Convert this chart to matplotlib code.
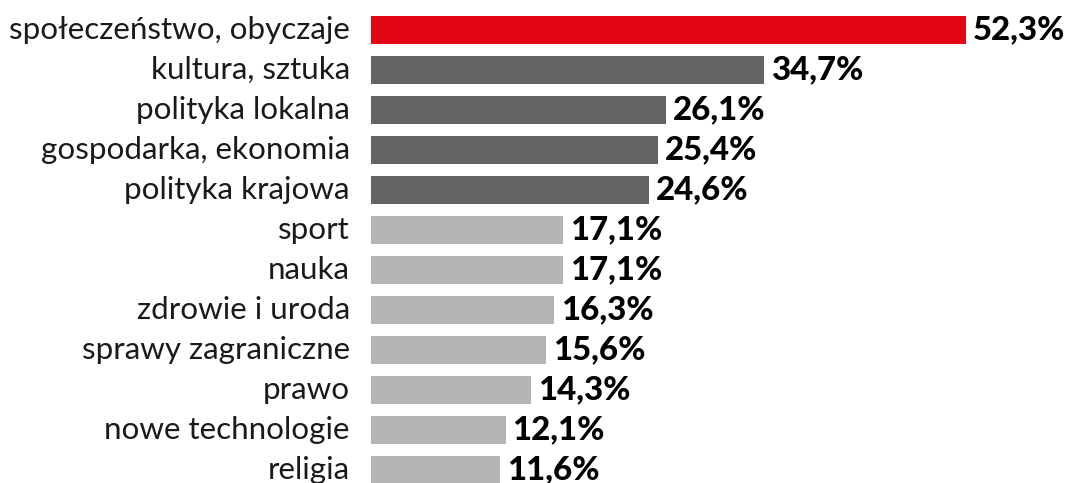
import matplotlib.pyplot as plt

CATEGORIES = ["społeczeństwo, obyczaje", "kultura, sztuka", "polityka lokalna",
              "gospodarka, ekonomia", "polityka krajowa", "sport", "nauka",
              "zdrowie i uroda", "sprawy zagraniczne", "prawo",
              "nowe technologie", "religia"]
VALUES = [52.3, 34.7, 26.1, 25.4, 24.6, 17.1, 17.1, 16.3, 15.6, 14.3, 12.1, 11.6]
LABELS = ["52,3%", "34,7%", "26,1%", "25,4%", "24,6%", "17,1%", "17,1%",
          "16,3%", "15,6%", "14,3%", "12,1%", "11,6%"]

RED = "#E30613"
DARK = "#646464"
LIGHT = "#B4B4B4"
colors = [RED] + [DARK] * 4 + [LIGHT] * 7

plt.rcParams["font.family"] = ["Lato", "DejaVu Sans"]

fig = plt.figure(figsize=(10.7, 4.83), dpi=100)
ax = fig.add_axes([371 / 1070, 0, 699 / 1070, 1])

y = range(len(CATEGORIES))
ax.barh(y, VALUES, height=0.7, color=colors)
for i, (v, lab) in enumerate(zip(VALUES, LABELS)):
    ax.annotate(lab, (v, i), xytext=(7, 0), textcoords="offset pixels",
                va="center", ha="left", fontsize=23.8, fontweight="black",
                color="#000000")
    ax.annotate(CATEGORIES[i], (0.35, i), xytext=(-21, 0), textcoords="offset pixels",
                va="center", ha="right", fontsize=22.6, color="#1a1a1a",
                annotation_clip=False)

# zero sits a few px left of the axes edge
ax.set_xlim(0.35, 0.35 + 699 / 11.45)
ax.set_ylim(11.325, -0.75)
ax.axis("off")

fig.savefig("out.png", dpi=100)
